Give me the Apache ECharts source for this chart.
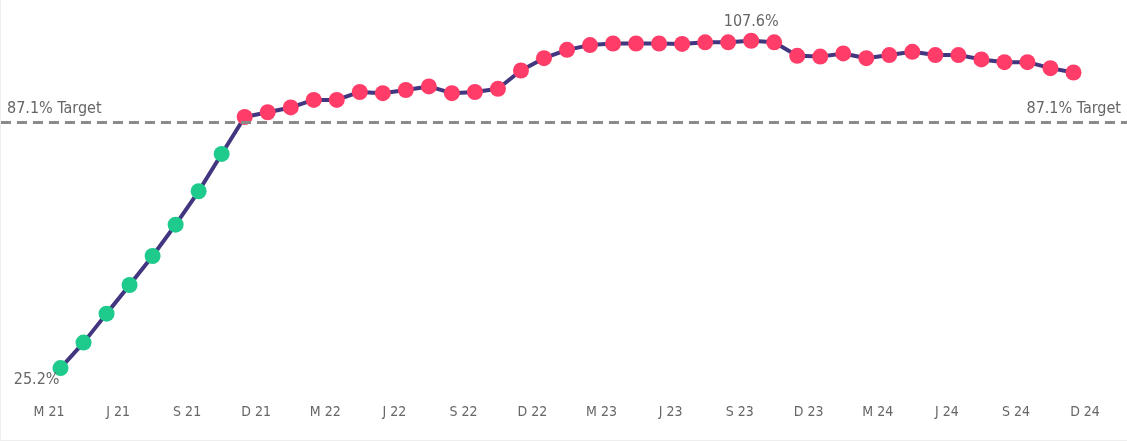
<!DOCTYPE html>
<html>
<head>
<meta charset="utf-8">
<script src="https://cdn.jsdelivr.net/npm/echarts@6/dist/echarts.min.js"></script>
<style>
  html, body { margin: 0; padding: 0; background: #fff; }
  #chart { width: 1127px; height: 441px; box-sizing: border-box; border-left: 1px solid #eee; border-bottom: 1px solid #eee; }
</style>
</head>
<body>
<div id="chart"></div>
<script>
// monthly values, Mar 21 .. Nov 24 (percent)
const months = [
  'Mar 21', 'Apr 21', 'May 21', 'Jun 21', 'Jul 21', 'Aug 21', 'Sep 21', 'Oct 21', 'Nov 21', 'Dec 21',
  'Jan 22', 'Feb 22', 'Mar 22', 'Apr 22', 'May 22', 'Jun 22', 'Jul 22', 'Aug 22', 'Sep 22', 'Oct 22', 'Nov 22', 'Dec 22',
  'Jan 23', 'Feb 23', 'Mar 23', 'Apr 23', 'May 23', 'Jun 23', 'Jul 23', 'Aug 23', 'Sep 23', 'Oct 23', 'Nov 23', 'Dec 23',
  'Jan 24', 'Feb 24', 'Mar 24', 'Apr 24', 'May 24', 'Jun 24', 'Jul 24', 'Aug 24', 'Sep 24', 'Oct 24', 'Nov 24'
]
const values = [
  25.2, 31.6, 38.9, 46.1, 53.4, 61.3, 69.7, 79.1, 88.4, 89.6,
  90.8, 92.7, 92.7, 94.7, 94.4, 95.2, 96.1, 94.4, 94.7, 95.5, 100.1, 103.2,
  105.3, 106.5, 106.9, 106.9, 106.9, 106.8, 107.2, 107.2, 107.6, 107.2, 103.8, 103.6,
  104.4, 103.2, 104.0, 104.8, 104.0, 104.0, 102.9, 102.2, 102.2, 100.7, 99.6
]
const tickLabels = ['M 21', 'J 21', 'S 21', 'D 21', 'M 22', 'J 22', 'S 22', 'D 22',
  'M 23', 'J 23', 'S 23', 'D 23', 'M 24', 'J 24', 'S 24', 'D 24']
const target = 87.1
const labelledPoints = ['Mar 21', 'Sep 23']

const green = '#1ECB8C'
const red = '#FF3D68'
const lineColor = '#41367F'
const textColor = '#666666'
const font = 'DejaVu Sans Condensed'

// month index i sits at the middle of its month
const points = values.map((v, i) => [i + 0.5, v])

const chart = echarts.init(document.getElementById('chart'))

chart.setOption({
  animation: false,
  textStyle: { fontFamily: font },
  grid: [
    { left: 48, right: 42, top: 31.2, bottom: 51.3 },
    { left: 0, right: 0, top: 31.2, bottom: 51.3 }
  ],
  xAxis: [
    {
      type: 'value', gridIndex: 0, min: 0, max: 45, interval: 3,
      splitLine: { show: false }, axisLine: { show: false }, axisTick: { show: false },
      axisLabel: {
        color: textColor, fontSize: 14, fontFamily: font, margin: 17,
        formatter: v => tickLabels[v / 3]
      }
    },
    { type: 'value', gridIndex: 1, min: 0, max: 1, show: false }
  ],
  yAxis: [
    { type: 'value', gridIndex: 0, min: 20, max: 110, interval: 10, show: false },
    { type: 'value', gridIndex: 1, min: 20, max: 110, interval: 10, show: false }
  ],
  series: [
    {
      type: 'line',
      xAxisIndex: 1, yAxisIndex: 1,
      data: [],
      silent: true,
      markLine: {
        symbol: 'none',
        silent: true,
        lineStyle: { color: '#8A8A8A', type: [10, 6], width: 3 },
        label: {
          color: textColor, fontSize: 16, fontFamily: font, distance: [6, 5],
          formatter: () => target + '% Target'
        },
        data: [
          { yAxis: target, label: { position: 'insideStartTop' } },
          { yAxis: target, label: { position: 'insideEndTop' } }
        ]
      }
    },
    {
      type: 'line',
      data: points,
      symbol: 'circle',
      symbolSize: 16,
      showAllSymbol: true,
      clip: false,
      lineStyle: { color: lineColor, width: 4 },
      itemStyle: {
        color: p => (p.value[1] < target ? green : red)
      },
      label: {
        show: true,
        color: textColor,
        fontSize: 16,
        fontFamily: font,
        formatter: p => (labelledPoints.includes(months[p.dataIndex]) ? p.value[1].toFixed(1) + '%' : ''),
        position: 'top',
        distance: 3
      },
      labelLayout: p => (months[p.dataIndex] === 'Mar 21'
        ? { x: p.rect.x + 7, y: p.rect.y + 20, align: 'right', verticalAlign: 'middle' }
        : {})
    }
  ]
})
</script>
</body>
</html>
